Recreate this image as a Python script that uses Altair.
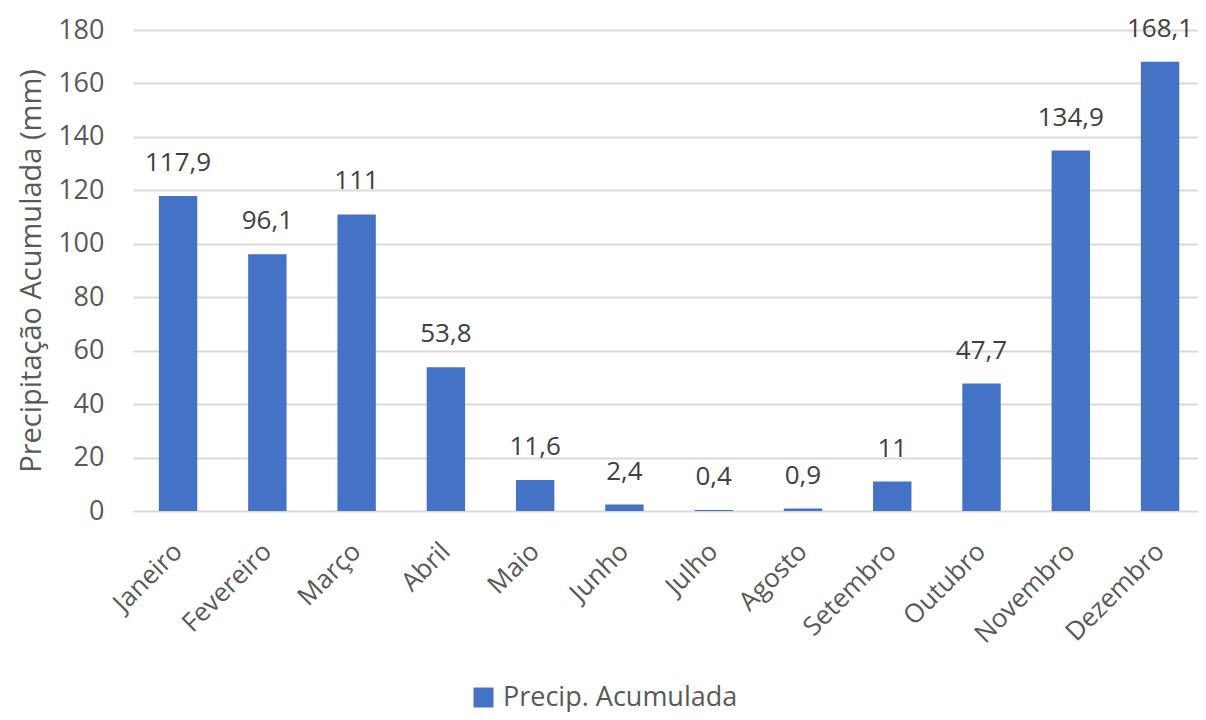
import altair as alt
import pandas as pd

meses = ["Janeiro", "Fevereiro", "Março", "Abril", "Maio", "Junho", "Julho",
         "Agosto", "Setembro", "Outubro", "Novembro", "Dezembro"]
precip = [117.9, 96.1, 111, 53.8, 11.6, 2.4, 0.4, 0.9, 11, 47.7, 134.9, 168.1]
rotulos = ["117,9", "96,1", "111", "53,8", "11,6", "2,4", "0,4", "0,9", "11",
           "47,7", "134,9", "168,1"]
y_ticks = [0, 20, 40, 60, 80, 100, 120, 140, 160, 180]

df = pd.DataFrame({"Mes": meses, "Precip": precip, "Rotulo": rotulos,
                   "Serie": ["Precip. Acumulada"] * len(meses)})

FONT = "Open Sans"
GREY = "#595959"

x = alt.X("Mes:N", sort=meses, title=None,
          scale=alt.Scale(paddingInner=0.57, paddingOuter=0.25, align=0.58),
          axis=alt.Axis(labelAngle=-45, labelFontSize=26, labelColor=GREY,
                        labelFont=FONT, ticks=False, domain=False,
                        labelPadding=36, labelAlign="right",
                        labelBaseline="middle", labelLimit=300))
y = alt.Y("Precip:Q", title="Precipitação Acumulada (mm)",
          scale=alt.Scale(domain=[0, 180], nice=False),
          axis=alt.Axis(values=y_ticks, labelFontSize=27, labelColor=GREY,
                        labelFont=FONT, titleFont=FONT, titleFontSize=29,
                        titleColor=GREY, titleFontWeight="normal",
                        ticks=False, domain=False, labelPadding=29,
                        titlePadding=11, gridColor="#D9D9D9", gridWidth=2))

bars = alt.Chart(df).mark_bar(color="#4472C4").encode(
    x=x, y=y,
    color=alt.Color("Serie:N", scale=alt.Scale(range=["#4472C4"]),
                    legend=alt.Legend(title=None, orient="none",
                                      legendX=337, legendY=654,
                                      symbolType="square", symbolSize=400,
                                      symbolOpacity=1,
                                      labelFontSize=27, labelColor=GREY,
                                      labelFont=FONT, labelLimit=400,
                                      labelOffset=6,
                                      symbolStrokeWidth=0))
)

text = alt.Chart(df).mark_text(dy=-25, fontSize=26, color="#404040",
                               font=FONT, baseline="alphabetic").encode(
    x=alt.X("Mes:N", sort=meses), y="Precip:Q", text="Rotulo:N"
)

chart = (bars + text).properties(
    width=1065, height=481,
    autosize=alt.AutoSizeParams(type="none"),
    padding={"left": 125, "top": 22, "right": 0, "bottom": 201},
).configure_view(stroke=None)

chart.save("out.html", embed_options={"renderer": "svg", "actions": False})
